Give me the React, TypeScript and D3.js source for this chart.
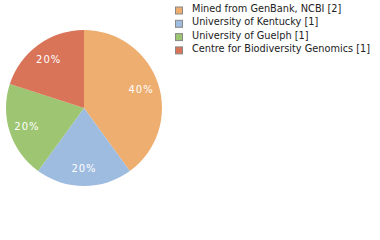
import { useEffect, useRef } from 'react';
import * as d3 from 'd3';

const labels = [
  'Mined from GenBank, NCBI [2]',
  'University of Kentucky [1]',
  'University of Guelph [1]',
  'Centre for Biodiversity Genomics [1]',
];
const values = [2, 1, 1, 1];
const colors = ['#eeae70', '#9ebbe0', '#9dc572', '#da7459'];

export default function App() {
  const svgRef = useRef<SVGSVGElement>(null);

  useEffect(() => {
    if (!svgRef.current) return;
    const svg = d3.select(svgRef.current);
    svg.selectAll('*').remove();

    const cx = 84;
    const cy = 108;
    const r = 78;
    const total = d3.sum(values);

    const pie = d3.pie<number>().sort(null)(values);
    const arc = d3.arc<d3.PieArcDatum<number>>().innerRadius(0).outerRadius(r);
    const labelArc = d3.arc<d3.PieArcDatum<number>>().innerRadius(r * 0.77).outerRadius(r * 0.77);

    const g = svg.append('g').attr('transform', `translate(${cx},${cy})`);

    g.selectAll('path')
      .data(pie)
      .enter()
      .append('path')
      .attr('d', arc)
      .attr('fill', (d, i) => colors[i]);

    g.selectAll('text')
      .data(pie)
      .enter()
      .append('text')
      .attr('transform', (d) => `translate(${labelArc.centroid(d)})`)
      .attr('text-anchor', 'middle')
      .attr('dy', '0.35em')
      .style('font-family', 'DejaVu Sans')
      .style('font-size', '10px')
      .style('letter-spacing', '1px')
      .style('fill', '#fff')
      .text((d) => `${Math.round((d.value / total) * 100)}%`);

    // legend rows, baseline-positioned
    const legend = svg
      .append('g')
      .selectAll('g')
      .data(labels)
      .enter()
      .append('g')
      .attr('transform', (d, i) => `translate(175,${12 + i * 13.3})`);

    legend
      .append('rect')
      .attr('x', 0.5)
      .attr('y', -5)
      .attr('width', 7)
      .attr('height', 7)
      .attr('fill', (d, i) => colors[i])
      .attr('stroke', '#888')
      .attr('stroke-width', 1);

    legend
      .append('text')
      .attr('x', 17)
      .style('font-family', 'DejaVu Sans')
      .style('font-size', '9.75px')
      .style('fill', '#222')
      .text((d) => d);
  }, []);

  return (
    <div style={{ position: 'absolute', left: 0, top: 0 }}>
      <svg ref={svgRef} width={380} height={240} style={{ display: 'block' }} />
    </div>
  );
}
